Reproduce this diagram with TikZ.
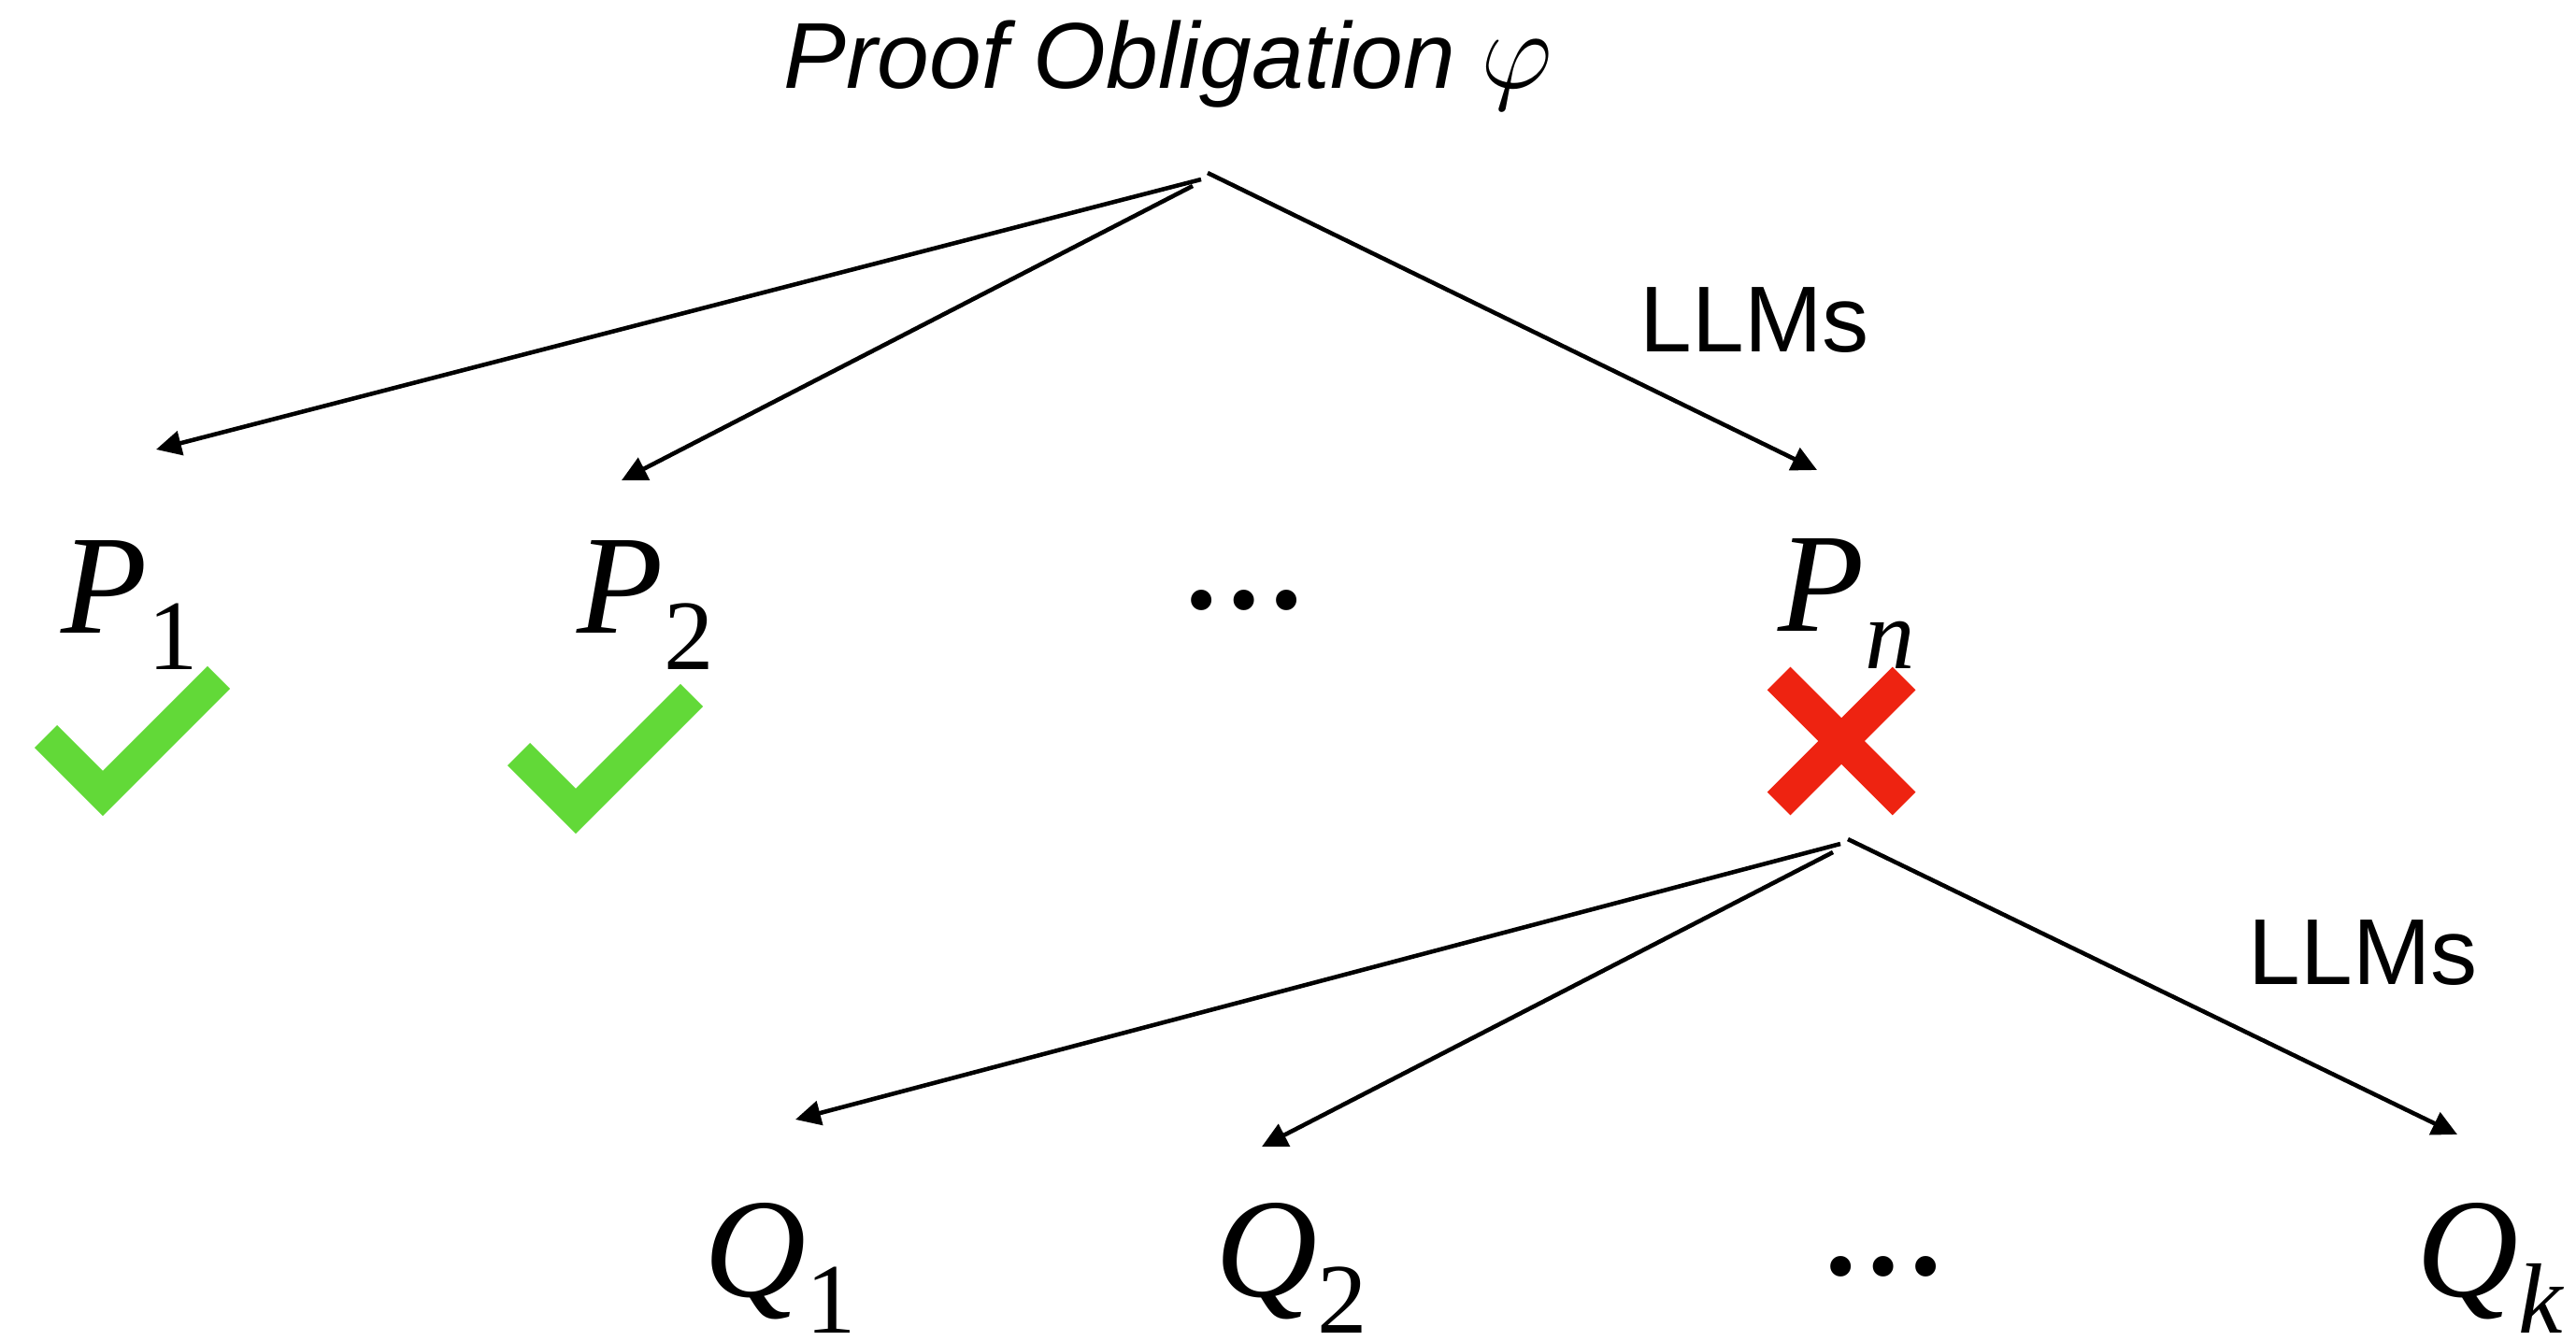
\documentclass[tikz,border=0pt]{standalone}
\usepackage{graphicx}
\usepackage{fontspec}
\setmainfont{Liberation Serif}
\setsansfont{Liberation Sans}
\usetikzlibrary{arrows.meta}
\definecolor{okgreen}{RGB}{98,217,56}
\definecolor{failred}{RGB}{238,35,17}
\newcommand{\term}[2]{\textit{#1}\raisebox{-11.1pt}{\fontsize{30.4pt}{32pt}\selectfont #2}}

\begin{document}
\begin{tikzpicture}[llm/.style={-{Triangle[length=2.7mm,width=2.6mm]}, line width=1.3pt}, goal/.style={anchor=base west, inner sep=0pt, font=\fontsize{43pt}{46pt}\selectfont}, ellip/.style={anchor=base, inner sep=0pt, font=\rmfamily\bfseries\fontsize{38.4pt}{40pt}\selectfont}, tag/.style={anchor=base west, inner sep=0pt, font=\sffamily\fontsize{28.5pt}{30pt}\selectfont}, tick/.style={draw=okgreen, line width=0.34cm, line join=miter}, cross/.style={draw=failred, line width=0.35cm}]
			\useasboundingbox (0,0) rectangle (27.56,-14.35);
			\node[tag] (obligation) at (8.38,-0.95) {\itshape Proof Obligation {\fontsize{20.74pt}{22pt}\selectfont\scalebox{1.64}{$\varphi$}}};
			\coordinate (o1) at (12.85,-1.92);
			\coordinate (o2) at (12.76,-1.99);
			\coordinate (o3) at (12.92,-1.85);
			\coordinate (p1-in) at (1.67,-4.81);
			\coordinate (p2-in) at (6.65,-5.14);
			\coordinate (pn-in) at (19.44,-5.03);
			\draw[llm] (o1) -- (p1-in);
			\draw[llm] (o2) -- (p2-in);
			\draw[llm] (o3) -- (pn-in);
			\node[tag] (llm1) at (17.54,-3.77) {LLMs};
			\node[goal] (p1) at (0.65,-6.77) {\term{P}{1}};
			\node[goal] (p2) at (6.17,-6.77) {\term{P}{2}};
			\node[ellip] (pdots) at (13.31,-6.52) {…};
			\node[goal] (pn) at (19.02,-6.76) {\term{P}{\textit{n}}};
			\draw[tick] (0.49,-7.88) -- (1.10,-8.49) -- (2.34,-7.25);
			\draw[tick] (5.55,-8.07) -- (6.16,-8.68) -- (7.40,-7.44);
			\draw[cross] (19.03,-7.26) -- (20.37,-8.60) (19.03,-8.60) -- (20.37,-7.26);
			\coordinate (x1) at (19.69,-9.03);
			\coordinate (x2) at (19.61,-9.12);
			\coordinate (x3) at (19.77,-8.98);
			\coordinate (q1-in) at (8.51,-11.98);
			\coordinate (q2-in) at (13.50,-12.27);
			\coordinate (qk-in) at (26.29,-12.14);
			\draw[llm] (x1) -- (q1-in);
			\draw[llm] (x2) -- (q2-in);
			\draw[llm] (x3) -- (qk-in);
			\node[tag] (llm2) at (24.05,-10.53) {LLMs};
			\node[goal] (q1) at (7.53,-13.87) {\term{Q}{1}};
			\node[goal] (q2) at (13.00,-13.87) {\term{Q}{2}};
			\node[ellip] (qdots) at (20.15,-13.64) {…};
			\node[goal] (qk) at (25.85,-13.87) {\term{Q}{\textit{k}}};
			\end{tikzpicture}
\end{document}
